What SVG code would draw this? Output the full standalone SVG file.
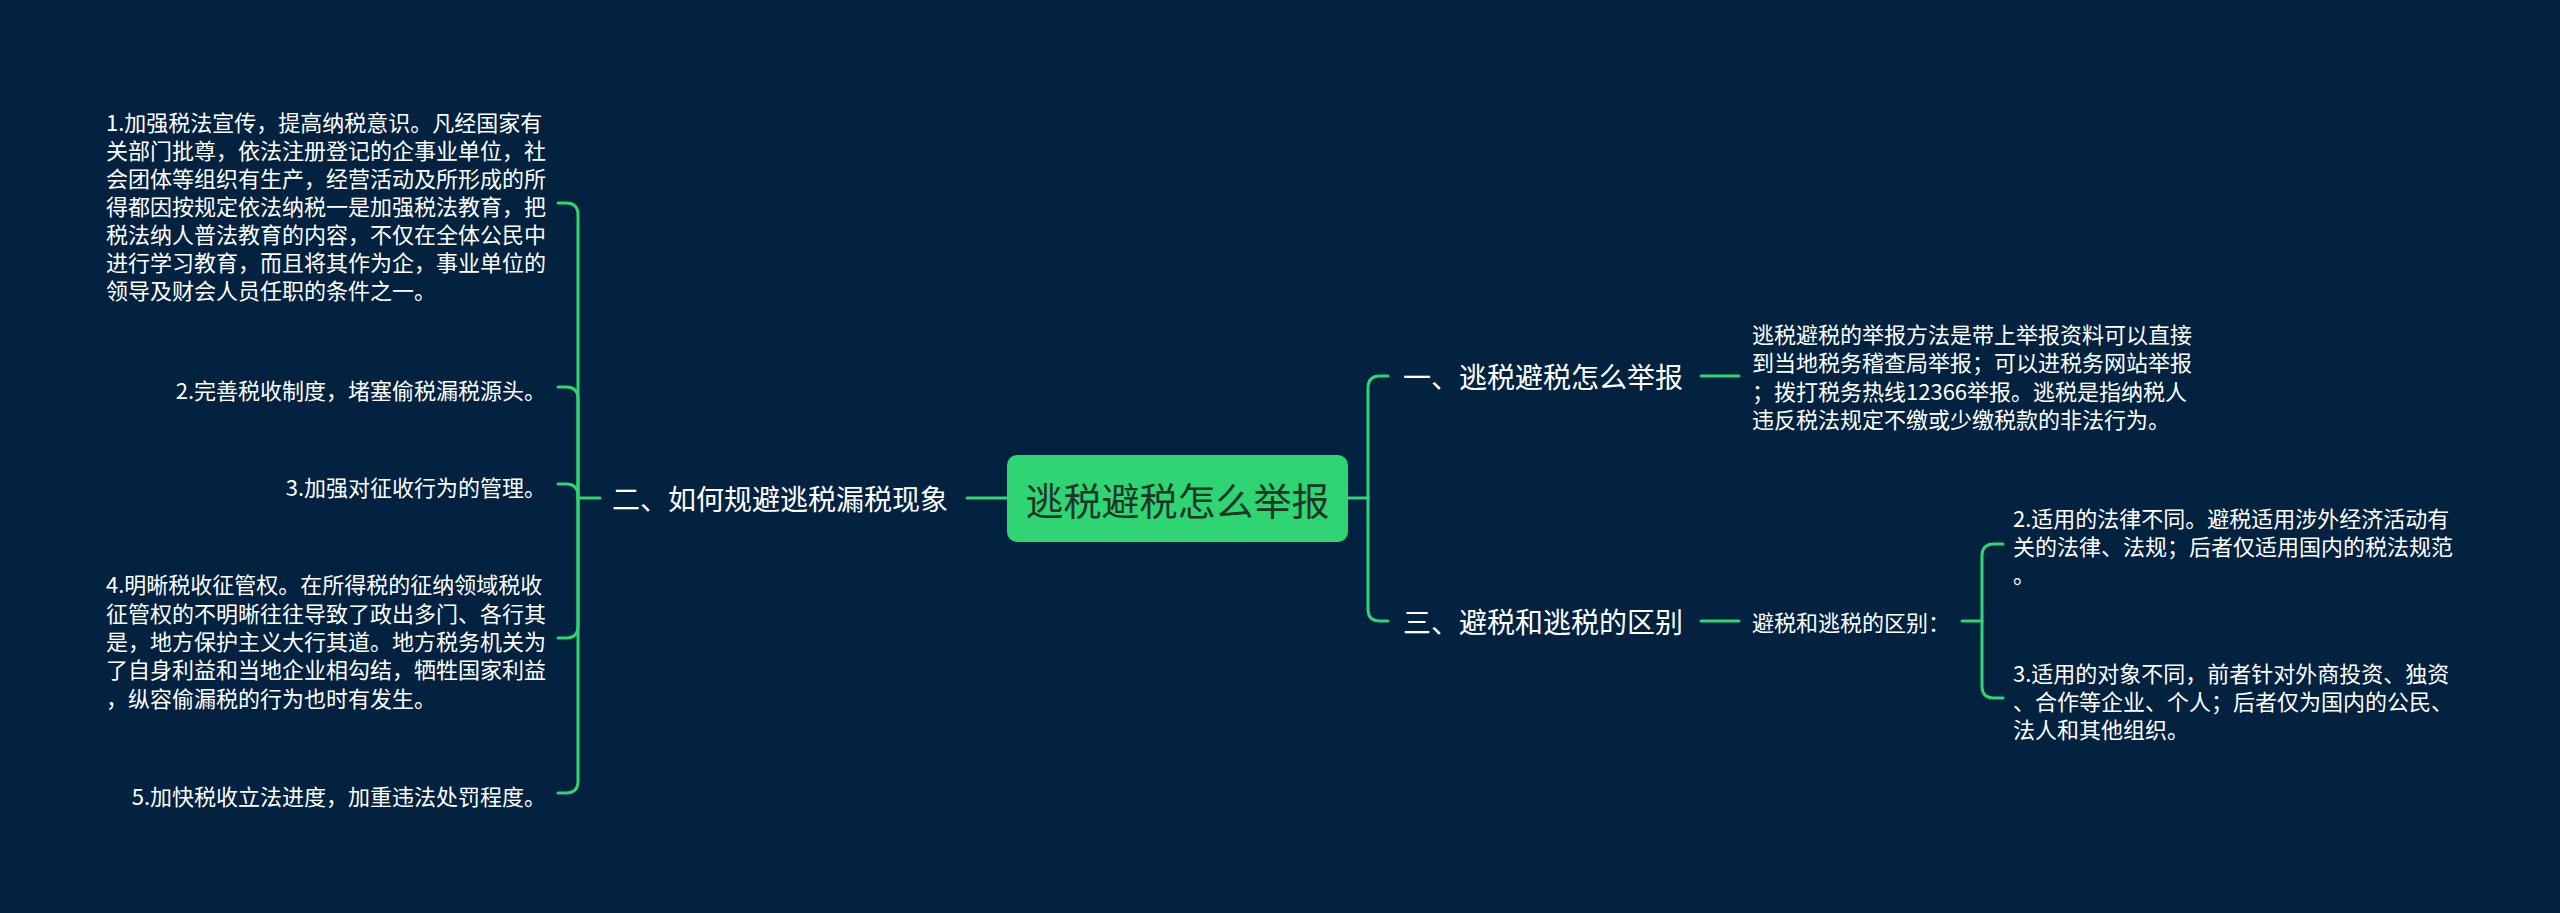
<svg xmlns="http://www.w3.org/2000/svg" width="2560" height="913" viewBox="0 0 2560 913">
<style>
.bg{fill:#022240}
.ln{fill:none;stroke:#2fd572;stroke-width:3;stroke-linecap:round}
text{font-family:"Noto Sans CJK SC","Noto Sans",sans-serif;fill:#ffffff;dominant-baseline:central}
.leaf{font-size:22px}
.l1{font-size:28px}
.root{font-size:38px;fill:#1e3528}
.end{text-anchor:end}
</style>
<rect class="bg" x="0" y="0" width="2560" height="913"/>
<g id="connectors">
<path class="ln" d="M1007 498 H967"/>
<path class="ln" d="M600 498 H578"/>
<path class="ln" d="M578 498 V215 Q578 203 566 203 H558"/>
<path class="ln" d="M578 498 V399 Q578 387 566 387 H558"/>
<path class="ln" d="M578 498 V496 Q578 484 566 484 H558"/>
<path class="ln" d="M578 498 V626 Q578 638 566 638 H558"/>
<path class="ln" d="M578 498 V781 Q578 793 566 793 H558"/>
<path class="ln" d="M1347 498 H1368"/>
<path class="ln" d="M1368 498 V388 Q1368 376 1380 376 H1388"/>
<path class="ln" d="M1368 498 V609 Q1368 621 1380 621 H1388"/>
<path class="ln" d="M1701 376 H1739"/>
<path class="ln" d="M1701 621 H1739"/>
<path class="ln" d="M1962 621 H1982"/>
<path class="ln" d="M1982 621 V556 Q1982 544 1994 544 H2003"/>
<path class="ln" d="M1982 621 V686 Q1982 698 1994 698 H2003"/>
</g>
<g id="root">
<rect x="1007" y="455" width="341" height="87" rx="10" fill="#2fd572"/>
<text class="root" x="1177.5" y="498" text-anchor="middle">逃税避税怎么举报</text>
</g>
<g id="n-left">
<text class="l1" x="612" y="498">二、如何规避逃税漏税现象</text>
</g>
<g id="leaf-l1">
<text class="leaf" x="106" y="121">1.加强税法宣传，提高纳税意识。凡经国家有</text>
<text class="leaf" x="106" y="149">关部门批尊，依法注册登记的企事业单位，社</text>
<text class="leaf" x="106" y="177">会团体等组织有生产，经营活动及所形成的所</text>
<text class="leaf" x="106" y="205">得都因按规定依法纳税一是加强税法教育，把</text>
<text class="leaf" x="106" y="233">税法纳人普法教育的内容，不仅在全体公民中</text>
<text class="leaf" x="106" y="261">进行学习教育，而且将其作为企，事业单位的</text>
<text class="leaf" x="106" y="289">领导及财会人员任职的条件之一。</text>
</g>
<g id="leaf-l2">
<text class="leaf end" x="546" y="389">2.完善税收制度，堵塞偷税漏税源头。</text>
</g>
<g id="leaf-l3">
<text class="leaf end" x="546" y="486">3.加强对征收行为的管理。</text>
</g>
<g id="leaf-l4">
<text class="leaf" x="106" y="583">4.明晰税收征管权。在所得税的征纳领域税收</text>
<text class="leaf" x="106" y="612">征管权的不明晰往往导致了政出多门、各行其</text>
<text class="leaf" x="106" y="640">是，地方保护主义大行其道。地方税务机关为</text>
<text class="leaf" x="106" y="668">了自身利益和当地企业相勾结，牺牲国家利益</text>
<text class="leaf" x="106" y="697">，纵容偷漏税的行为也时有发生。</text>
</g>
<g id="leaf-l5">
<text class="leaf end" x="546" y="795">5.加快税收立法进度，加重违法处罚程度。</text>
</g>
<g id="n-r1">
<text class="l1" x="1403" y="376">一、逃税避税怎么举报</text>
</g>
<g id="leaf-r1">
<text class="leaf" x="1752" y="333">逃税避税的举报方法是带上举报资料可以直接</text>
<text class="leaf" x="1752" y="361">到当地税务稽查局举报；可以进税务网站举报</text>
<text class="leaf" x="1752" y="390">；拨打税务热线12366举报。逃税是指纳税人</text>
<text class="leaf" x="1752" y="418">违反税法规定不缴或少缴税款的非法行为。</text>
</g>
<g id="n-r3">
<text class="l1" x="1403" y="621">三、避税和逃税的区别</text>
</g>
<g id="n-r3a">
<text class="leaf" x="1752" y="621">避税和逃税的区别：</text>
</g>
<g id="leaf-r3a1">
<text class="leaf" x="2013" y="517">2.适用的法律不同。避税适用涉外经济活动有</text>
<text class="leaf" x="2013" y="545">关的法律、法规；后者仅适用国内的税法规范</text>
<text class="leaf" x="2013" y="573">。</text>
</g>
<g id="leaf-r3a2">
<text class="leaf" x="2013" y="672">3.适用的对象不同，前者针对外商投资、独资</text>
<text class="leaf" x="2013" y="700">、合作等企业、个人；后者仅为国内的公民、</text>
<text class="leaf" x="2013" y="728">法人和其他组织。</text>
</g>
</svg>
